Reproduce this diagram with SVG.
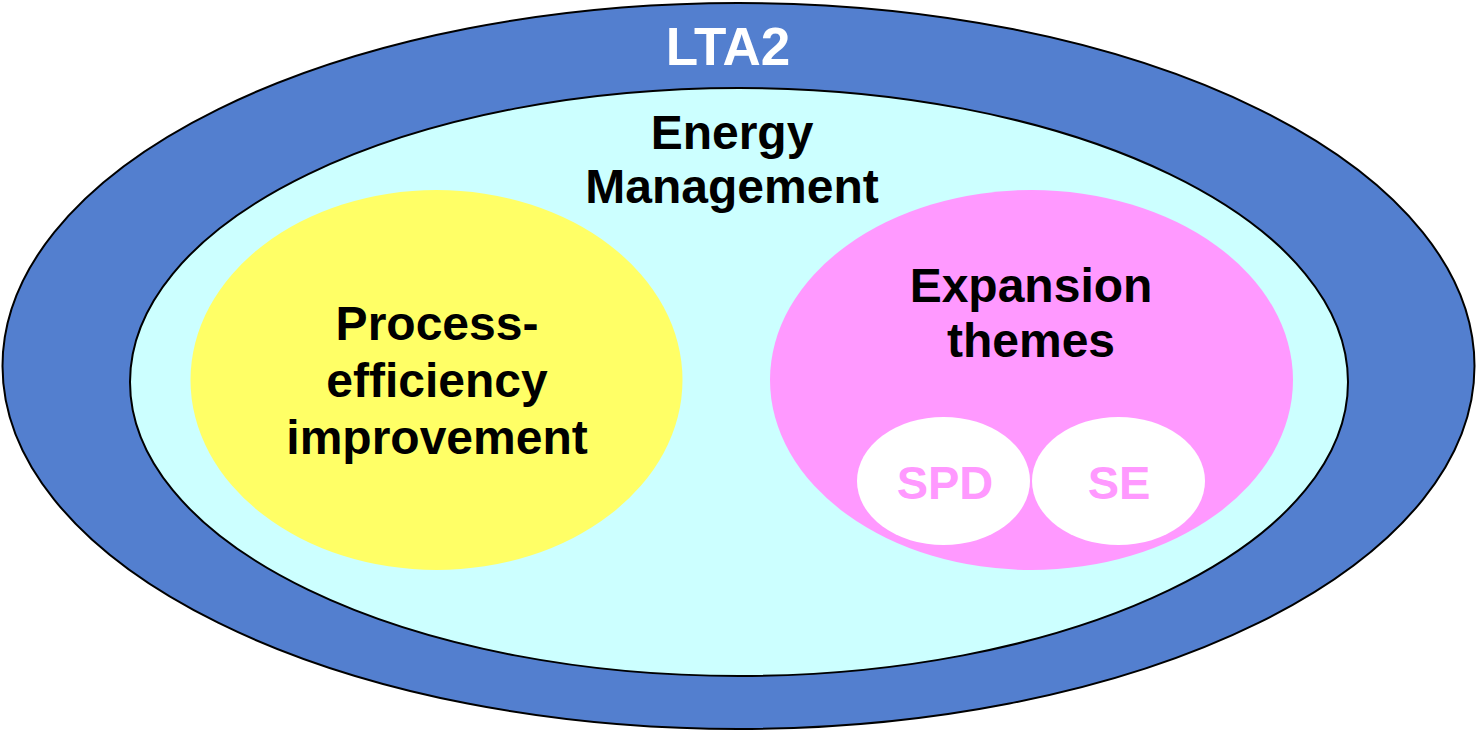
<svg xmlns="http://www.w3.org/2000/svg" width="1477" height="732" viewBox="0 0 1477 732">
<style>
text{font-family:"Liberation Sans",Arial,sans-serif;font-weight:bold;text-anchor:middle}
.big{font-size:48px;fill:#000}
.lta{font-size:53px;fill:#fff}
.sub{font-size:47px;fill:#FF99FF}
</style>
<rect width="1477" height="732" fill="#fff"/>
<g id="lta2">
<ellipse cx="738.5" cy="366" rx="736" ry="363" fill="#537FCF" stroke="#000" stroke-width="2"/>
<text class="lta" x="728" y="65">LTA2</text>
</g>
<g id="energy-management">
<ellipse cx="739" cy="382" rx="609" ry="294" fill="#CCFFFF" stroke="#000" stroke-width="2"/>
<text class="big" x="732" y="149">Energy</text>
<text class="big" x="732" y="203">Management</text>
</g>
<g id="process-efficiency">
<ellipse cx="436.5" cy="380" rx="246" ry="190" fill="#FFFF66"/>
<text class="big" x="437" y="340">Process-</text>
<text class="big" x="437" y="397">efficiency</text>
<text class="big" x="437" y="454">improvement</text>
</g>
<g id="expansion-themes">
<ellipse cx="1031.5" cy="380" rx="261.5" ry="190" fill="#FF99FF"/>
<text class="big" x="1031" y="302">Expansion</text>
<text class="big" x="1031" y="357">themes</text>
</g>
<g id="spd">
<ellipse cx="943.5" cy="481" rx="86.5" ry="64" fill="#fff"/>
<text class="sub" x="945" y="499">SPD</text>
</g>
<g id="se">
<ellipse cx="1118.5" cy="481" rx="86.5" ry="64" fill="#fff"/>
<text class="sub" x="1119" y="499">SE</text>
</g>
<g id="connectors"/>
</svg>
